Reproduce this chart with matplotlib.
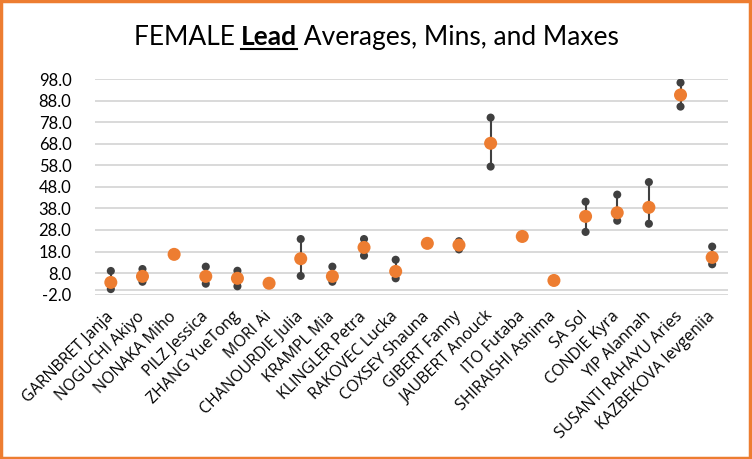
import numpy as np
import matplotlib
matplotlib.use('Agg')
import matplotlib.pyplot as plt
from matplotlib.patches import Rectangle

# ============================================
# 1. Data
# ============================================

athletes = ['GARNBRET Janja', 'NOGUCHI Akiyo', 'NONAKA Miho', 'PILZ Jessica',
            'ZHANG YueTong', 'MORI Ai', 'CHANOURDIE Julia', 'KRAMPL Mia',
            'KLINGLER Petra', 'RAKOVEC Lucka', 'COXSEY Shauna', 'GIBERT Fanny',
            'JAUBERT Anouck', 'ITO Futaba', 'SHIRAISHI Ashima', 'SA Sol',
            'CONDIE Kyra', 'YIP Alannah', 'SUSANTI RAHAYU Aries', 'KAZBEKOVA Ievgeniia']

avg_scores = [3.7, 6.5, 16.7, 6.5, 5.6, 3.3, 14.7, 6.5, 19.9, 8.8,
              21.8, 21.0, 68.2, 25.0, 4.6, 34.3, 36.0, 38.5, 90.6, 15.3]
min_scores = [0.6, 4.0, 16.7, 3.1, 1.9, 3.3, 6.7, 4.0, 16.1, 5.6,
              21.8, 19.0, 57.4, 25.0, 4.6, 27.1, 32.3, 30.9, 85.2, 12.1]
max_scores = [9.0, 9.9, 16.7, 11.0, 9.1, 3.3, 23.8, 11.0, 23.8, 14.2,
              21.8, 22.8, 80.1, 25.0, 4.6, 41.1, 44.4, 50.2, 96.3, 20.3]

y_ticks = np.arange(-2, 99, 10)

orange = '#ED7D31'
dark = '#404040'
grid_col = '#D9D9D9'

# ============================================
# 2. Plot
# ============================================

fig = plt.figure(figsize=(7.52, 4.59), dpi=100)
ax = fig.add_axes([95 / 752, 1 - 294.7 / 459, (728 - 95) / 752, (294.7 - 79) / 459])

x = np.arange(len(athletes))

for yt in y_ticks:
    ax.axhline(yt, color=grid_col, lw=1.4, zorder=0)
ax.axhline(0, color=grid_col, lw=1.4, zorder=0)

ax.vlines(x, min_scores, max_scores, color=dark, lw=1.5, zorder=2)
ax.scatter(x, min_scores, s=34, color=dark, zorder=3, edgecolors='none')
ax.scatter(x, max_scores, s=34, color=dark, zorder=3, edgecolors='none')
ax.scatter(x, avg_scores, s=88, color=orange, zorder=4, edgecolors='none')

ax.set_xlim(-0.5, len(athletes) - 0.5)
ax.set_ylim(-2, 98)
ax.set_yticks(y_ticks)
ax.set_yticklabels([f'{v:.1f}' for v in y_ticks], fontsize=12, family='Lato')
ax.set_xticks(x)
ax.set_xticklabels(athletes, rotation=45, ha='right', va='center',
                   rotation_mode='anchor', fontsize=11.5, family='Open Sans')
ax.tick_params(axis='both', length=0)
ax.tick_params(axis='y', pad=17)
ax.tick_params(axis='x', pad=14)
for s in ax.spines.values():
    s.set_visible(False)

# ============================================
# 3. Title with bold underlined "Lead"
# ============================================

parts = [('FEMALE ', 'normal'), ('Lead', 'bold'), (' Averages, Mins, and Maxes', 'normal')]
fig.canvas.draw()
renderer = fig.canvas.get_renderer()
texts = []
widths = []
for txt, w in parts:
    t = fig.text(0, 0, txt, fontsize=19, family='Lato', weight=w, ha='left', va='baseline')
    bb = t.get_window_extent(renderer)
    texts.append(t)
    widths.append(bb.width)
total = sum(widths)
x0 = 376.5 - total / 2
base_y = 459 - 45
for t, w in zip(texts, widths):
    t.set_position((x0 / 752, base_y / 459))
    if t.get_text() == 'Lead':
        fig.add_artist(plt.Line2D([x0 / 752, (x0 + w) / 752],
                                  [(base_y - 4) / 459, (base_y - 4) / 459],
                                  color='black', lw=1.5))
    x0 += w

# orange frame
fig.add_artist(Rectangle((0.001, 0.002), 0.996, 0.996, transform=fig.transFigure,
                         fill=False, edgecolor=orange, lw=2.5))

plt.savefig('out.png', dpi=100)
